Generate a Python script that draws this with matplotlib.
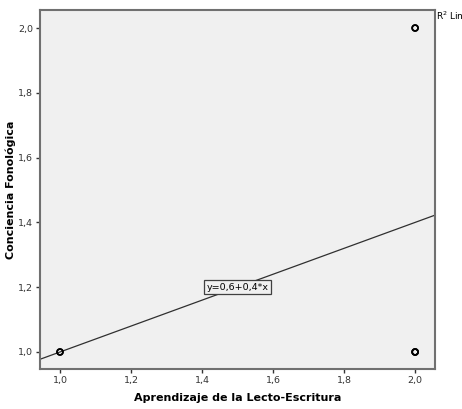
import numpy as np
import matplotlib.pyplot as plt

# datos
x = [1, 1, 2, 2, 2, 2, 2]
y = [1, 1, 2, 2, 1, 1, 1]
xticks = [1.0, 1.2, 1.4, 1.6, 1.8, 2.0]
yticks = [1.0, 1.2, 1.4, 1.6, 1.8, 2.0]

b, a = np.polyfit(x, y, 1)   # pendiente, intercepto

fig = plt.figure(figsize=(4.62, 4.09), dpi=100)
ax = fig.add_axes([40/462, 1 - 369/409, 395/462, 359/409])
ax.set_facecolor('#f0f0f0')
for s in ax.spines.values():
    s.set_color('#707070')
    s.set_linewidth(1.5)

ax.set_xlim(0.9437, 2.056)
ax.set_ylim(0.9475, 2.0556)

xl = np.array(ax.get_xlim())
ax.plot(xl, a + b*xl, color='#303030', lw=0.9, zorder=2)
ax.scatter(x, y, s=18, facecolors='none', edgecolors='black', linewidths=1.2, zorder=3)

ax.text(1.5, 1.2, 'y=%s+%s*x' % (f'{a:.1f}'.replace('.', ','), f'{b:.1f}'.replace('.', ',')),
        ha='center', va='center', fontsize=6.8,
        bbox=dict(boxstyle='square,pad=0.25', fc='#f0f0f0', ec='#404040', lw=0.9), zorder=4)

fmt = lambda v: f'{v:.1f}'.replace('.', ',')
ax.set_xticks(xticks)
ax.set_xticklabels([fmt(v) for v in xticks], fontsize=6.8, color='#333333')
ax.set_yticks(yticks)
ax.set_yticklabels([fmt(v) for v in yticks], fontsize=6.8, color='#333333')
ax.tick_params(length=3, width=1, colors='#333333', pad=2)

ax.set_xlabel('Aprendizaje de la Lecto-Escritura', fontsize=8, fontweight='bold')
ax.xaxis.set_label_coords(0.5, -24/359)
ax.set_ylabel('Conciencia Fonológica', fontsize=8, fontweight='bold')
ax.yaxis.set_label_coords(-24/395, 0.5)

fig.text(436/462, 1 - 16/409, 'R$^2$ Linear', fontsize=6.5, ha='left', va='center')

fig.savefig('out.png', dpi=100, facecolor='white')
